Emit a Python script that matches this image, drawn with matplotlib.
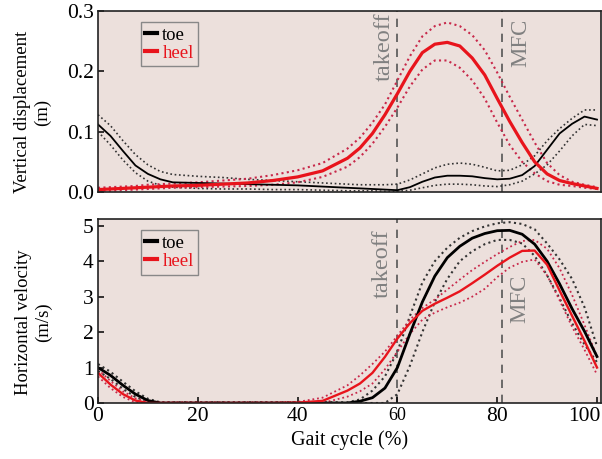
import matplotlib
matplotlib.use("Agg")
import matplotlib.pyplot as plt
from matplotlib.transforms import ScaledTranslation

plt.rcParams['font.family'] = ['Liberation Serif', 'DejaVu Serif']

# ---------------- data ----------------
gait = [0, 2.5, 5, 7.5, 10, 12.5, 15, 20, 25, 30, 35, 40, 45, 50, 52.5, 55, 57.5,
        60, 62.5, 65, 67.5, 70, 72.5, 75, 77.5, 80, 82.5, 85, 87.5, 90, 92.5, 95, 97.5, 100]

# vertical displacement (m)
toe_disp = [0.112, 0.093, 0.068, 0.044, 0.030, 0.021, 0.016, 0.015, 0.014, 0.013, 0.012, 0.011,
            0.009, 0.007, 0.006, 0.005, 0.004, 0.003, 0.008, 0.017, 0.024, 0.027, 0.027, 0.026,
            0.023, 0.021, 0.022, 0.028, 0.043, 0.070, 0.097, 0.113, 0.125, 0.120]
toe_disp_up = [0.128, 0.110, 0.085, 0.062, 0.045, 0.034, 0.029, 0.026, 0.024, 0.021, 0.019, 0.017,
               0.015, 0.013, 0.012, 0.012, 0.012, 0.013, 0.020, 0.030, 0.040, 0.046, 0.048, 0.046,
               0.041, 0.035, 0.036, 0.045, 0.060, 0.085, 0.105, 0.122, 0.136, 0.136]
toe_disp_lo = [0.100, 0.078, 0.053, 0.032, 0.018, 0.011, 0.008, 0.006, 0.005, 0.005, 0.004, 0.004,
               0.003, 0.002, 0.002, 0.002, 0.001, 0.001, 0.003, 0.007, 0.011, 0.013, 0.013, 0.012,
               0.010, 0.009, 0.012, 0.018, 0.030, 0.045, 0.068, 0.093, 0.112, 0.110]
heel_disp = [0.004, 0.005, 0.006, 0.007, 0.008, 0.009, 0.010, 0.011, 0.013, 0.015, 0.019, 0.025,
             0.035, 0.056, 0.073, 0.097, 0.128, 0.163, 0.200, 0.231, 0.245, 0.248, 0.242, 0.222,
             0.194, 0.155, 0.117, 0.082, 0.050, 0.030, 0.019, 0.014, 0.010, 0.006]
heel_disp_up = [0.007, 0.008, 0.009, 0.010, 0.012, 0.013, 0.014, 0.016, 0.019, 0.022, 0.028, 0.036,
                0.048, 0.072, 0.090, 0.115, 0.145, 0.185, 0.225, 0.258, 0.275, 0.281, 0.275, 0.260,
                0.235, 0.198, 0.158, 0.120, 0.082, 0.048, 0.028, 0.017, 0.012, 0.008]
heel_disp_lo = [0.002, 0.002, 0.003, 0.004, 0.005, 0.006, 0.007, 0.008, 0.009, 0.010, 0.012, 0.016,
                0.025, 0.042, 0.058, 0.080, 0.108, 0.140, 0.175, 0.203, 0.218, 0.218, 0.206, 0.185,
                0.155, 0.115, 0.078, 0.050, 0.031, 0.018, 0.012, 0.010, 0.007, 0.005]

# horizontal velocity (m/s)
toe_vel = [1.00, 0.78, 0.50, 0.25, 0.07, 0.00, 0.00, 0.00, 0.00, 0.00, 0.00, 0.00, 0.00, 0.00,
           0.05, 0.15, 0.42, 1.00, 1.95, 2.85, 3.58, 4.10, 4.42, 4.65, 4.78, 4.86, 4.87, 4.76,
           4.48, 4.00, 3.36, 2.66, 2.02, 1.31]
toe_vel_up = [1.10, 0.88, 0.60, 0.33, 0.12, 0.02, 0.02, 0.02, 0.02, 0.02, 0.02, 0.02, 0.02, 0.02,
              0.10, 0.35, 0.75, 1.45, 2.45, 3.40, 4.00, 4.38, 4.66, 4.85, 4.98, 5.07, 5.10, 5.05,
              4.90, 4.50, 4.05, 3.50, 2.70, 1.60]
toe_vel_lo = [0.90, 0.68, 0.40, 0.17, 0.03, 0.00, 0.00, 0.00, 0.00, 0.00, 0.00, 0.00, 0.00, 0.00,
              0.00, 0.00, 0.00, 0.25, 1.05, 2.00, 2.85, 3.50, 4.00, 4.28, 4.48, 4.60, 4.60, 4.50,
              4.15, 3.60, 2.95, 2.25, 1.65, 1.15]
heel_vel = [0.85, 0.52, 0.25, 0.07, 0.00, 0.00, 0.00, 0.00, 0.00, 0.00, 0.00, 0.01, 0.06, 0.35,
            0.55, 0.85, 1.30, 1.82, 2.25, 2.60, 2.80, 2.97, 3.15, 3.38, 3.62, 3.87, 4.10, 4.29,
            4.30, 3.90, 3.17, 2.46, 1.75, 1.00]
heel_vel_up = [0.95, 0.62, 0.33, 0.13, 0.03, 0.02, 0.02, 0.02, 0.02, 0.02, 0.02, 0.03, 0.15, 0.50,
               0.78, 1.10, 1.45, 1.90, 2.35, 2.68, 2.92, 3.20, 3.48, 3.75, 3.98, 4.20, 4.40, 4.57,
               4.60, 4.35, 3.80, 3.05, 2.20, 1.30]
heel_vel_lo = [0.75, 0.42, 0.17, 0.02, 0.00, 0.00, 0.00, 0.00, 0.00, 0.00, 0.00, 0.00, 0.00, 0.18,
               0.33, 0.55, 0.95, 1.45, 1.95, 2.35, 2.55, 2.70, 2.83, 3.00, 3.22, 3.55, 3.82, 3.98,
               4.05, 3.60, 2.90, 2.15, 1.50, 0.80]

events = [60, 81]
event_names = ["takeoff", "MFC"]
series_names = ["toe", "heel"]
x_ticks = [0, 20, 40, 60, 80, 100]

# ---------------- styling ----------------
BG = "#ECE0DC"
RED = "#E8141C"
RED_DOT = "#C8284A"
BLK_DOT = "#333333"
GRAY = "#808080"
dot = (0, (1, 1.6))

fig = plt.figure(figsize=(6.02, 4.59), dpi=100)
ax1 = fig.add_axes([98/602, 1-192/459, 503/602, 181/459])
ax2 = fig.add_axes([98/602, 1-403/459, 503/602, 184/459])

for ax in (ax1, ax2):
    ax.set_facecolor(BG)
    for s in ax.spines.values():
        s.set_linewidth(1.2)
        s.set_color("#222222")
    ax.set_xlim(0, 100.8)
    ax.tick_params(direction='in', length=4, width=1.1, labelsize=15.5, pad=3,
                   right=False, top=False)
    for xv in events:
        ax.axvline(xv, color="#555555", lw=1.2, dashes=(5, 4), zorder=1)

# top panel
ax1.plot(gait, toe_disp_up, color=BLK_DOT, lw=1.2, ls=dot)
ax1.plot(gait, toe_disp_lo, color=BLK_DOT, lw=1.2, ls=dot)
ax1.plot(gait, heel_disp_up, color=RED_DOT, lw=1.5, ls=dot)
ax1.plot(gait, heel_disp_lo, color=RED_DOT, lw=1.5, ls=dot)
ax1.plot(gait, toe_disp, color='black', lw=1.3, label=series_names[0])
ax1.plot(gait, heel_disp, color=RED, lw=2.3, label=series_names[1])
ax1.set_ylim(0, 0.3)
ax1.set_yticks([0.0, 0.1, 0.2, 0.3])
ax1.set_yticklabels(["0.0", "0.1", "0.2", "0.3"])
ax1.tick_params(axis='x', bottom=False, labelbottom=False)
ax1.set_ylabel("Vertical displacement\n(m)", fontsize=13.5, linespacing=1.2)
ax1.yaxis.set_label_coords(-0.094, 0.44)
ax1.text(59.4, 0.298, event_names[0], rotation=90, ha='right', va='top', color=GRAY, fontsize=17.5)
ax1.text(82.6, 0.287, event_names[1], rotation=90, ha='left', va='top', color=GRAY, fontsize=16.5)

# bottom panel
ax2.plot(gait, toe_vel_up, color=BLK_DOT, lw=1.5, ls=dot)
ax2.plot(gait, toe_vel_lo, color=BLK_DOT, lw=1.5, ls=dot)
ax2.plot(gait, heel_vel_up, color=RED_DOT, lw=1.3, ls=dot)
ax2.plot(gait, heel_vel_lo, color=RED_DOT, lw=1.3, ls=dot)
ax2.plot(gait, toe_vel, color='black', lw=2.0, label=series_names[0])
ax2.plot(gait, heel_vel, color=RED, lw=1.7, label=series_names[1])
ax2.set_ylim(0, 5.19)
ax2.set_yticks([0, 1, 2, 3, 4, 5])
ax2.set_xticks(x_ticks)
ax2.set_xticklabels([str(v) for v in x_ticks])
ax2.set_ylabel("Horizontal velocity\n(m/s)", fontsize=13.5, linespacing=1.2)
ax2.yaxis.set_label_coords(-0.092, 0.44)
ax2.set_xlabel("Gait cycle (%)", fontsize=14.5, labelpad=3)
ax2.text(59.0, 4.9, event_names[0], rotation=90, ha='right', va='top', color=GRAY, fontsize=17.5)
ax2.text(82.5, 3.62, event_names[1], rotation=90, ha='left', va='top', color=GRAY, fontsize=16.5)

ticks = ax2.xaxis.get_major_ticks()
ticks[3].label1.set_fontsize(13)
last = ticks[-1].label1
last.set_transform(last.get_transform() + ScaledTranslation(-0.125, 0, fig.dpi_scale_trans))

for ax in (ax1, ax2):
    leg = ax.legend(loc='upper left', bbox_to_anchor=(0.085, 0.94), fontsize=13.5,
                    handlelength=0.6, handletextpad=0.3, borderpad=0.25, labelspacing=0.05,
                    fancybox=False, framealpha=1, borderaxespad=0)
    leg.get_frame().set_facecolor(BG)
    leg.get_frame().set_edgecolor("#888888")
    leg.get_frame().set_linewidth(1.0)
    for line in leg.get_lines():
        line.set_linewidth(3)
    for txt, col in zip(leg.get_texts(), ['black', RED]):
        txt.set_color(col)

fig.savefig("out.png", dpi=100, facecolor='white')
